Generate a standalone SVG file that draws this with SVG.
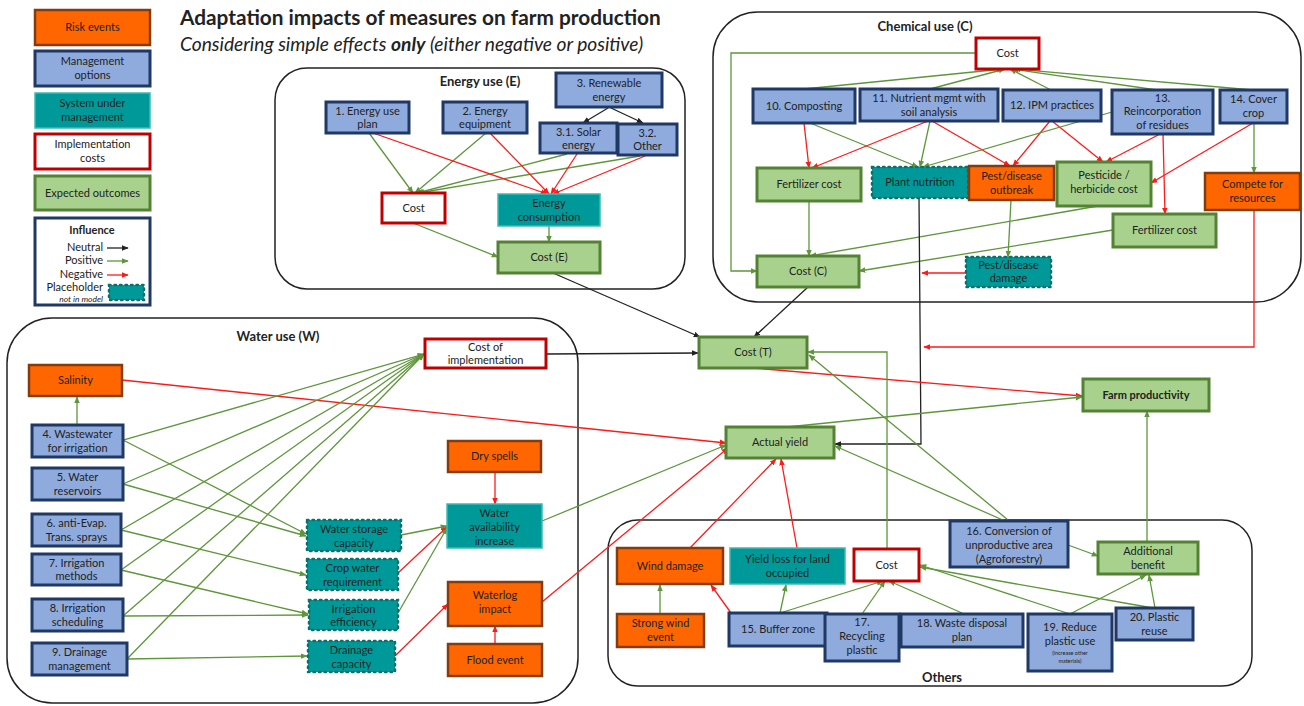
<svg xmlns="http://www.w3.org/2000/svg" width="1304" height="706" viewBox="0 0 1304 706">
<style>
text{font-family:Lato,"Liberation Sans",sans-serif;font-size:11px;fill:#222;text-anchor:middle}
.b{font-weight:bold}
.st{font-size:13px;font-weight:bold}
.risk{fill:#FF6600;stroke:#843C0C;stroke-width:2.5}
.mgmt{fill:#8FAADC;stroke:#1F3864;stroke-width:3}
.sys{fill:#009999;stroke:#40B8B2;stroke-width:1.5}
.ph{fill:#009999;stroke:#0A716C;stroke-width:2.5;stroke-dasharray:1.5 4;stroke-linecap:round}
.cost{fill:#fff;stroke:#C00000;stroke-width:3}
.out{fill:#A9D18E;stroke:#548235;stroke-width:3}
.grp{fill:none;stroke:#222;stroke-width:1.5}
.pos{fill:none;stroke:#5E963A;stroke-width:1.3;marker-end:url(#ag)}
.neg{fill:none;stroke:#FF1A1A;stroke-width:1.3;marker-end:url(#ar)}
.neu{fill:none;stroke:#222;stroke-width:1.3;marker-end:url(#ak)}
</style>
<defs>
<marker id="ag" viewBox="0 0 10 10" refX="9" refY="5" markerWidth="7" markerHeight="7" markerUnits="userSpaceOnUse" orient="auto"><path d="M0,1 L10,5 L0,9 z" fill="#5E963A"/></marker>
<marker id="ar" viewBox="0 0 10 10" refX="9" refY="5" markerWidth="7" markerHeight="7" markerUnits="userSpaceOnUse" orient="auto"><path d="M0,1 L10,5 L0,9 z" fill="#FF1A1A"/></marker>
<marker id="ak" viewBox="0 0 10 10" refX="9" refY="5" markerWidth="7" markerHeight="7" markerUnits="userSpaceOnUse" orient="auto"><path d="M0,1 L10,5 L0,9 z" fill="#222"/></marker>
</defs>
<rect width="1304" height="706" fill="#fff"/>

<g id="title">
<text x="180" y="25" class="b" style="font-size:20.8px;text-anchor:start">Adaptation impacts of measures on farm production</text>
<text x="180" y="51" style="font-size:19.2px;font-style:italic;text-anchor:start">Considering simple effects <tspan font-weight="bold">only</tspan> (either negative or positive)</text>
</g>

<g id="legend">
<rect x="35" y="10" width="115" height="35" class="risk"/><text x="92.5" y="31">Risk events</text>
<rect x="35" y="51" width="115" height="35" class="mgmt"/><text x="92.5" y="65">Management</text><text x="92.5" y="79">options</text>
<rect x="35" y="93" width="115" height="35" class="sys"/><text x="92.5" y="107">System under</text><text x="92.5" y="121">management</text>
<rect x="35" y="134" width="115" height="35" class="cost"/><text x="92.5" y="148">Implementation</text><text x="92.5" y="162">costs</text>
<rect x="35" y="176" width="115" height="34" class="out"/><text x="92.5" y="197">Expected outcomes</text>
<rect x="35" y="218" width="115" height="87" fill="#fff" stroke="#1F3864" stroke-width="3"/>
<text x="92" y="234" class="b">Influence</text>
<text x="103" y="251" style="text-anchor:end">Neutral</text><path d="M107,248 H128" class="neu"/>
<text x="103" y="264" style="text-anchor:end">Positive</text><path d="M107,261 H128" class="pos"/>
<text x="103" y="278" style="text-anchor:end">Negative</text><path d="M107,275 H128" class="neg"/>
<text x="103" y="291" style="text-anchor:end">Placeholder</text>
<text x="103" y="302" style="text-anchor:end;font-size:8.5px;font-style:italic">not in model</text>
<rect x="109" y="285" width="35" height="15" class="ph"/>
</g>

<g id="sections">
<rect x="275" y="68" width="410" height="221" rx="32" class="grp"/>
<text x="480" y="86" class="st">Energy use (E)</text>
<rect x="713" y="12" width="588" height="290" rx="45" class="grp"/>
<text x="925" y="31" class="st">Chemical use (C)</text>
<rect x="7" y="318" width="571" height="385" rx="45" class="grp"/>
<text x="278" y="341" class="st">Water  use (W)</text>
<rect x="608" y="520" width="644" height="166" rx="30" class="grp"/>
<text x="942" y="682" class="st">Others</text>
</g>

<g id="connectors">
<!-- energy -->
<path d="M608,108 L583,123" class="neu"/>
<path d="M611,108 L643,123" class="neu"/>
<path d="M369,133 L413,193" class="pos"/>
<path d="M486,133 L415,193" class="pos"/>
<path d="M567,154 L417,193" class="pos"/>
<path d="M640,156 L418,193" class="pos"/>
<path d="M373,133 L547,194" class="neg"/>
<path d="M490,133 L549,194" class="neg"/>
<path d="M577,154 L551,194" class="neg"/>
<path d="M645,156 L553,194" class="neg"/>
<path d="M413,223 L498,257" class="pos"/>
<path d="M549,226 L549,242" class="pos"/>
<path d="M553,273 L700,337" class="neu"/>
<!-- chemical -->
<path d="M976,53 L731,53 L731,271 L757,271" class="pos"/>
<path d="M804,89 L1003,69" class="pos"/>
<path d="M930,89 L1005,69" class="pos"/>
<path d="M1051,90 L1010,69" class="pos"/>
<path d="M1157,90 L1012,69" class="pos"/>
<path d="M1253,90 L1014,69" class="pos"/>
<path d="M804,123 L809,168" class="neg"/>
<path d="M810,123 L918,167" class="pos"/>
<path d="M928,121 L812,168" class="neg"/>
<path d="M930,121 L920,167" class="pos"/>
<path d="M932,121 L1010,166" class="neg"/>
<path d="M1050,121 L1013,166" class="neg"/>
<path d="M1052,121 L1103,162" class="neg"/>
<path d="M1112,112 L923,167" class="pos"/>
<path d="M1160,134 L1106,162" class="neg"/>
<path d="M1163,134 L1165,214" class="neg"/>
<path d="M1253,123 L1151,183" class="neg"/>
<path d="M1254,123 L1254,173" class="pos"/>
<path d="M1011,200 L1008,257" class="pos"/>
<path d="M1098,206 L810,256" class="pos"/>
<path d="M1113,230 L859,271" class="pos"/>
<path d="M809,201 L809,256" class="pos"/>
<path d="M966,273 L922,273" class="neg"/>
<path d="M919,198 L921,444 L835,444" class="neu"/>
<path d="M1254,210 L1254,347 L924,347" class="neg"/>
<path d="M808,287 L754,337" class="neu"/>
<!-- central -->
<path d="M547,354 L698,353" class="neu"/>
<path d="M753,368 L1082,396" class="neg"/>
<path d="M787,427 L1082,397" class="pos"/>
<path d="M122,380 L726,443" class="neg"/>
<path d="M542,521 L726,445" class="pos"/>
<path d="M542,602 L728,448" class="neg"/>
<path d="M690,548 L776,459" class="neg"/>
<path d="M797,548 L781,459" class="neg"/>
<path d="M887,549 L887,352 L808,352" class="pos"/>
<path d="M1008,520 L809,355" class="pos"/>
<path d="M1005,521 L835,446" class="pos"/>
<path d="M1147,541 L1147,411" class="pos"/>
<path d="M1068,545 L1098,556" class="pos"/>
<!-- others -->
<path d="M660,614 L660,585" class="pos"/>
<path d="M731,613 L711,585" class="neg"/>
<path d="M780,613 L786,585" class="pos"/>
<path d="M780,613 L883,581" class="pos"/>
<path d="M862,614 L885,581" class="pos"/>
<path d="M962,613 L889,581" class="pos"/>
<path d="M1070,614 L920,565" class="pos"/>
<path d="M1153,608 L920,567" class="pos"/>
<path d="M1070,614 L1146,575" class="pos"/>
<path d="M1155,608 L1149,575" class="pos"/>
<!-- water -->
<path d="M77,425 L77,397" class="pos"/>
<path d="M123,440 L424,354" class="pos"/>
<path d="M123,484 L424,354" class="pos"/>
<path d="M121,530 L424,354" class="pos"/>
<path d="M121,570 L424,354" class="pos"/>
<path d="M123,616 L424,354" class="pos"/>
<path d="M127,659 L424,354" class="pos"/>
<path d="M123,440 L306,534" class="pos"/>
<path d="M123,484 L306,536" class="pos"/>
<path d="M121,530 L306,575" class="pos"/>
<path d="M121,570 L308,614" class="pos"/>
<path d="M123,616 L308,615" class="pos"/>
<path d="M127,659 L307,656" class="pos"/>
<path d="M401,535 L447,526" class="pos"/>
<path d="M398,573 L447,527" class="neg"/>
<path d="M398,613 L447,528" class="pos"/>
<path d="M395,656 L448,604" class="neg"/>
<path d="M495,472 L495,504" class="neg"/>
<path d="M495,644 L495,626" class="neg"/>
</g>

<!-- energy nodes -->
<g id="e1"><rect x="326" y="102" width="83" height="31" class="mgmt"/><text x="367.5" y="115">1. Energy use</text><text x="367.5" y="128">plan</text></g>
<g id="e2"><rect x="443" y="102" width="84" height="31" class="mgmt"/><text x="485" y="115">2. Energy</text><text x="485" y="128">equipment</text></g>
<g id="e3"><rect x="556" y="73" width="106" height="34" class="mgmt"/><text x="609" y="87">3. Renewable</text><text x="609" y="101">energy</text></g>
<g id="e31"><rect x="540" y="123" width="77" height="30" class="mgmt"/><text x="578.5" y="136">3.1. Solar</text><text x="578.5" y="149">energy</text></g>
<g id="e32"><rect x="618" y="124" width="59" height="31" class="mgmt"/><text x="647.5" y="137">3.2.</text><text x="647.5" y="150">Other</text></g>
<g id="ecost"><rect x="382" y="193" width="63" height="30" class="cost"/><text x="413.5" y="212">Cost</text></g>
<g id="econs"><rect x="498" y="194" width="102" height="32" class="sys"/><text x="549" y="207">Energy</text><text x="549" y="221">consumption</text></g>
<g id="costE"><rect x="498" y="242" width="102" height="31" class="out"/><text x="549" y="261">Cost (E)</text></g>

<!-- chemical nodes -->
<g id="ccost"><rect x="976" y="38" width="63" height="31" class="cost"/><text x="1007.5" y="57">Cost</text></g>
<g id="c10"><rect x="753" y="89" width="102" height="34" class="mgmt"/><text x="804" y="110">10. Composting</text></g>
<g id="c11"><rect x="860" y="89" width="138" height="32" class="mgmt"/><text x="929" y="102">11. Nutrient mgmt with</text><text x="929" y="116">soil analysis</text></g>
<g id="c12"><rect x="1003" y="90" width="98" height="31" class="mgmt"/><text x="1052" y="109">12. IPM practices</text></g>
<g id="c13"><rect x="1112" y="90" width="101" height="44" class="mgmt"/><text x="1162.5" y="102">13.</text><text x="1162.5" y="115">Reincorporation</text><text x="1162.5" y="129">of residues</text></g>
<g id="c14"><rect x="1220" y="90" width="67" height="33" class="mgmt"/><text x="1253.5" y="103">14. Cover</text><text x="1253.5" y="117">crop</text></g>
<g id="cfert1"><rect x="757" y="168" width="104" height="33" class="out"/><text x="809" y="188">Fertilizer cost</text></g>
<g id="cplant"><rect x="872" y="167" width="96" height="31" class="ph"/><text x="920" y="186">Plant nutrition</text></g>
<g id="cpest"><rect x="969" y="166" width="85" height="34" class="risk"/><text x="1011.5" y="180">Pest/disease</text><text x="1011.5" y="194">outbreak</text></g>
<g id="cpestcost"><rect x="1057" y="162" width="94" height="44" class="out"/><text x="1104" y="179">Pesticide /</text><text x="1104" y="193">herbicide cost</text></g>
<g id="cfert2"><rect x="1113" y="214" width="103" height="33" class="out"/><text x="1164.5" y="234">Fertilizer cost</text></g>
<g id="ccomp"><rect x="1205" y="173" width="95" height="37" class="risk"/><text x="1252.5" y="188">Compete for</text><text x="1252.5" y="202">resources</text></g>
<g id="costC"><rect x="757" y="256" width="102" height="31" class="out"/><text x="808" y="275">Cost (C)</text></g>
<g id="cdamage"><rect x="966" y="257" width="85" height="30" class="ph"/><text x="1008.5" y="269">Pest/disease</text><text x="1008.5" y="282">damage</text></g>

<!-- central nodes -->
<g id="costT"><rect x="699" y="337" width="108" height="31" class="out"/><text x="753" y="356">Cost (T)</text></g>
<g id="yield"><rect x="726" y="427" width="108" height="31" class="out"/><text x="780" y="446">Actual yield</text></g>
<g id="farm"><rect x="1083" y="379" width="126" height="32" class="out"/><text x="1146" y="399" class="b">Farm productivity</text></g>

<!-- water nodes -->
<g id="wcost"><rect x="425" y="339" width="121" height="29" class="cost"/><text x="485.5" y="351">Cost of</text><text x="485.5" y="364">implementation</text></g>
<g id="wsal"><rect x="29" y="365" width="93" height="31" class="risk"/><text x="75.5" y="384">Salinity</text></g>
<g id="w4"><rect x="32" y="425" width="91" height="32" class="mgmt"/><text x="77.5" y="438">4. Wastewater</text><text x="77.5" y="452">for irrigation</text></g>
<g id="w5"><rect x="32" y="468" width="91" height="32" class="mgmt"/><text x="77.5" y="481">5. Water</text><text x="77.5" y="495">reservoirs</text></g>
<g id="w6"><rect x="32" y="514" width="89" height="32" class="mgmt"/><text x="76.5" y="527">6. anti-Evap.</text><text x="76.5" y="541">Trans. sprays</text></g>
<g id="w7"><rect x="32" y="554" width="89" height="31" class="mgmt"/><text x="76.5" y="567">7. Irrigation</text><text x="76.5" y="580">methods</text></g>
<g id="w8"><rect x="32" y="599" width="91" height="32" class="mgmt"/><text x="77.5" y="612">8. Irrigation</text><text x="77.5" y="626">scheduling</text></g>
<g id="w9"><rect x="32" y="643" width="95" height="32" class="mgmt"/><text x="79.5" y="656">9. Drainage</text><text x="79.5" y="670">management</text></g>
<g id="wstor"><rect x="307" y="520" width="94" height="31" class="ph"/><text x="354" y="533">Water storage</text><text x="354" y="547">capacity</text></g>
<g id="wcrop"><rect x="307" y="559" width="91" height="31" class="ph"/><text x="352.5" y="572">Crop water</text><text x="352.5" y="586">requirement</text></g>
<g id="weff"><rect x="309" y="600" width="89" height="30" class="ph"/><text x="353.5" y="613">Irrigation</text><text x="353.5" y="626">efficiency</text></g>
<g id="wdrain"><rect x="308" y="641" width="87" height="31" class="ph"/><text x="351.5" y="654">Drainage</text><text x="351.5" y="668">capacity</text></g>
<g id="wdry"><rect x="448" y="441" width="93" height="31" class="risk"/><text x="494.5" y="460">Dry spells</text></g>
<g id="wavail"><rect x="447" y="504" width="95" height="44" class="sys"/><text x="494.5" y="517">Water</text><text x="494.5" y="531">availability</text><text x="494.5" y="545">increase</text></g>
<g id="wlog"><rect x="448" y="582" width="94" height="44" class="risk"/><text x="495" y="599">Waterlog</text><text x="495" y="613">impact</text></g>
<g id="wflood"><rect x="448" y="644" width="94" height="32" class="risk"/><text x="495" y="664">Flood event</text></g>

<!-- others nodes -->
<g id="owind"><rect x="617" y="548" width="106" height="36" class="risk"/><text x="670" y="570">Wind damage</text></g>
<g id="ostrong"><rect x="617" y="614" width="87" height="33" class="risk"/><text x="660.5" y="627">Strong wind</text><text x="660.5" y="641">event</text></g>
<g id="oloss"><rect x="730" y="548" width="115" height="36" class="sys"/><text x="787.5" y="563">Yield loss for land</text><text x="787.5" y="577">occupied</text></g>
<g id="ocost"><rect x="854" y="549" width="65" height="32" class="cost"/><text x="886.5" y="569">Cost</text></g>
<g id="o15"><rect x="729" y="613" width="98" height="33" class="mgmt"/><text x="778" y="633">15. Buffer zone</text></g>
<g id="o17"><rect x="825" y="614" width="74" height="47" class="mgmt"/><text x="862" y="626">17.</text><text x="862" y="640">Recycling</text><text x="862" y="654">plastic</text></g>
<g id="o18"><rect x="901" y="614" width="122" height="33" class="mgmt"/><text x="962" y="627">18. Waste disposal</text><text x="962" y="641">plan</text></g>
<g id="o16"><rect x="950" y="521" width="118" height="46" class="mgmt"/><text x="1009" y="535">16. Conversion of</text><text x="1009" y="549">unproductive area</text><text x="1009" y="563">(Agroforestry)</text></g>
<g id="oben"><rect x="1098" y="542" width="100" height="32" class="out"/><text x="1148" y="555">Additional</text><text x="1148" y="569">benefit</text></g>
<g id="o19"><rect x="1028" y="614" width="84" height="57" class="mgmt"/><text x="1070" y="631">19. Reduce</text><text x="1070" y="645">plastic use</text><text x="1070" y="655" style="font-size:5.5px">(increase other</text><text x="1070" y="663" style="font-size:5.5px">materials)</text></g>
<g id="o20"><rect x="1116" y="608" width="77" height="32" class="mgmt"/><text x="1154.5" y="621">20. Plastic</text><text x="1154.5" y="635">reuse</text></g>
</svg>
